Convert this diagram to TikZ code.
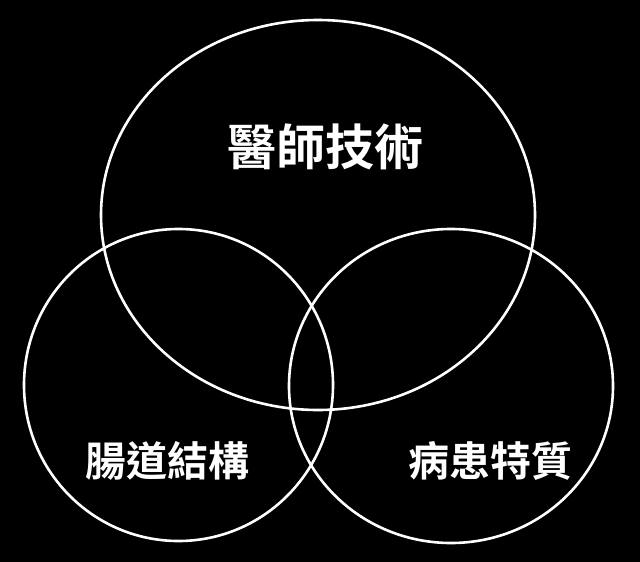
\documentclass[tikz,border=0pt]{standalone}
\usepackage{fontspec}
\newfontfamily\cjk{Noto Sans CJK TC}[BoldFont={Noto Sans CJK TC Bold}]
\begin{document}
\begin{tikzpicture}[x=1pt,y=-1pt,
  ring/.style={draw=white,line width=2.6pt},
  label/.style={text=white,font=\cjk\bfseries,inner sep=0pt}]
\fill[black] (0,0) rectangle (640,562);
\useasboundingbox (0,0) rectangle (640,562);
\draw[ring] (318,215) ellipse [x radius=217, y radius=195];
\draw[ring] (178.5,385) ellipse [x radius=154.5, y radius=156];
\draw[ring] (451,386) ellipse [x radius=162, y radius=157];
\node[label,font=\cjk\bfseries\fontsize{49}{49}\selectfont] (doc) at (325,147) {醫師技術};
\node[label,font=\cjk\bfseries\fontsize{41}{41}\selectfont] (gut) at (167,461) {腸道結構};
\node[label,font=\cjk\bfseries\fontsize{41}{41}\selectfont] (pat) at (490,461) {病患特質};
\end{tikzpicture}
\end{document}
